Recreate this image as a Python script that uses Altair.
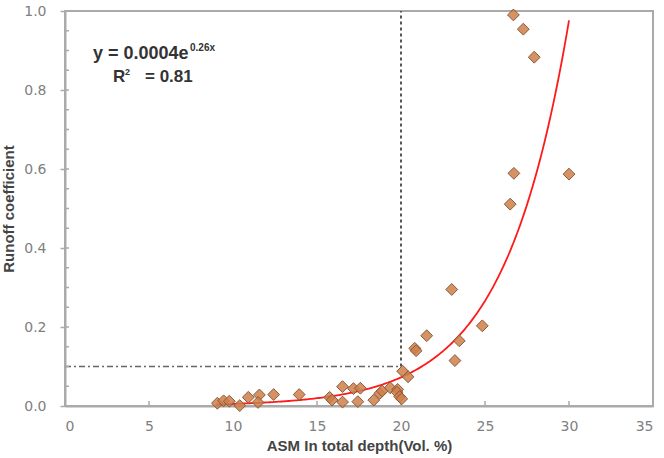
import altair as alt
import pandas as pd

# Observed antecedent soil moisture (ASM, vol. %) and runoff coefficient
asm = [9.07, 9.44, 9.78, 10.40, 10.91, 11.57, 11.49, 12.42, 13.94, 15.75,
       15.90, 16.52, 16.52, 17.17, 17.58, 17.43, 18.38, 18.74, 18.88, 19.36,
       19.80, 19.76, 19.92, 20.04, 20.10, 20.42, 20.82, 20.90, 21.53, 23.02,
       23.21, 23.47, 24.84, 26.50, 26.72, 26.69, 27.28, 27.93, 30.00]
runoff = [0.007, 0.013, 0.012, 0.001, 0.022, 0.028, 0.009, 0.029, 0.029, 0.022,
          0.015, 0.049, 0.010, 0.044, 0.045, 0.011, 0.015, 0.032, 0.038, 0.046,
          0.042, 0.035, 0.024, 0.018, 0.088, 0.074, 0.146, 0.140, 0.178, 0.295,
          0.115, 0.165, 0.203, 0.511, 0.589, 0.990, 0.954, 0.883, 0.587]

# Exponential fit y = a * e^(b x)
fit_a = 0.0004
fit_b = 0.26
fit_start, fit_stop = 9.0, 30.0

# Threshold guide lines
threshold_asm = 20
threshold_runoff = 0.1

x_ticks = [0, 5, 10, 15, 20, 25, 30, 35]
y_ticks = [0.0, 0.2, 0.4, 0.6, 0.8, 1.0]
y_minor = [round(i * 0.05, 2) for i in range(21)]

points = pd.DataFrame({"asm": asm, "runoff": runoff})

x_scale = alt.Scale(domain=[0, 35], nice=False, zero=False)
y_scale = alt.Scale(domain=[0, 1], nice=False)

label_font = "DejaVu Sans"
title_font = "Liberation Sans"
axis_grey = "#aaaaaa"

x_axis = alt.Axis(values=x_ticks, title="ASM In total depth(Vol. %)", grid=False,
                  tickSize=0, labelPadding=13, labelFont=label_font, labelFontSize=14,
                  labelColor="#808080", titleFont=title_font, titleFontSize=15,
                  titleFontWeight="bold", titleColor="#444444", titlePadding=5,
                  domainColor=axis_grey, domainWidth=2)
y_axis = alt.Axis(values=y_ticks, format=".1f", title="Runoff coefficient", grid=False,
                  tickSize=5, tickColor=axis_grey, tickWidth=1.5, labelPadding=14,
                  labelFont=label_font, labelFontSize=14, labelColor="#808080",
                  titleFont=title_font, titleFontSize=15, titleFontWeight="bold",
                  titleColor="#444444", titlePadding=7, domainColor=axis_grey,
                  domainWidth=2)

# Fitted exponential curve
curve = alt.Chart(alt.sequence(fit_start, fit_stop + 0.001, 0.1, as_="x")).transform_calculate(
    y=f"{fit_a} * exp({fit_b} * datum.x)"
).mark_line(color="#ff1a1a", strokeWidth=1.8).encode(
    x=alt.X("x:Q", scale=x_scale, axis=x_axis),
    y=alt.Y("y:Q", scale=y_scale, axis=y_axis),
)

# Inward x-axis ticks and y minor ticks
x_tick_marks = alt.Chart(pd.DataFrame({"t": x_ticks})).mark_rule(
    color=axis_grey, strokeWidth=1.5).encode(
    x=alt.X("t:Q", scale=x_scale), y=alt.value(395), y2=alt.value(390))
y_tick_marks = alt.Chart(pd.DataFrame({"t": y_minor})).mark_rule(
    color=axis_grey, strokeWidth=1.5).encode(
    y=alt.Y("t:Q", scale=y_scale), x=alt.value(0), x2=alt.value(4))

# Threshold guides
vline = alt.Chart(pd.DataFrame({"x": [threshold_asm], "y0": [threshold_runoff], "y1": [1.0]})).mark_rule(
    color="#555555", strokeWidth=2, strokeDash=[3, 3]).encode(
    x=alt.X("x:Q", scale=x_scale), y=alt.Y("y0:Q", scale=y_scale), y2="y1:Q")
hline = alt.Chart(pd.DataFrame({"x0": [0], "x1": [threshold_asm], "y": [threshold_runoff]})).mark_rule(
    color="#666666", strokeWidth=1.5, strokeDash=[6, 3, 2, 3]).encode(
    x=alt.X("x0:Q", scale=x_scale), x2="x1:Q", y=alt.Y("y:Q", scale=y_scale))

scatter = alt.Chart(points).mark_point(
    shape="diamond", filled=True, size=140, fill="#cc7f4a", fillOpacity=0.85,
    stroke="#8c5a3a", strokeWidth=1).encode(
    x=alt.X("asm:Q", scale=x_scale), y=alt.Y("runoff:Q", scale=y_scale))

# Fit equation annotation
eq_style = dict(font=title_font, fontWeight="bold", color="#333333", align="left",
                baseline="alphabetic")
eq_main = alt.Chart(pd.DataFrame({"t": [f"y = {fit_a}e"]})).mark_text(
    fontSize=18, **eq_style).encode(text="t:N", x=alt.value(28), y=alt.value(48))
eq_exp = alt.Chart(pd.DataFrame({"t": [f"{fit_b}x"]})).mark_text(
    fontSize=10, **eq_style).encode(text="t:N", x=alt.value(125), y=alt.value(40))
r2_main = alt.Chart(pd.DataFrame({"t": ["R"]})).mark_text(
    fontSize=17, **eq_style).encode(text="t:N", x=alt.value(48), y=alt.value(71))
r2_sup = alt.Chart(pd.DataFrame({"t": ["2"]})).mark_text(
    fontSize=9, **eq_style).encode(text="t:N", x=alt.value(60), y=alt.value(64))
r2_val = alt.Chart(pd.DataFrame({"t": ["= 0.81"]})).mark_text(
    fontSize=17, **eq_style).encode(text="t:N", x=alt.value(80), y=alt.value(71))

chart = alt.layer(
    hline, vline, x_tick_marks, y_tick_marks, curve, scatter,
    eq_main, eq_exp, r2_main, r2_sup, r2_val,
).properties(
    width=588, height=395,
    autosize=alt.AutoSizeParams(type="none"),
    padding={"left": 65, "top": 11, "right": 11, "bottom": 52},
).configure_view(stroke=axis_grey, strokeWidth=2)

chart.save("out.html", embed_options={"renderer": "svg", "actions": False})
